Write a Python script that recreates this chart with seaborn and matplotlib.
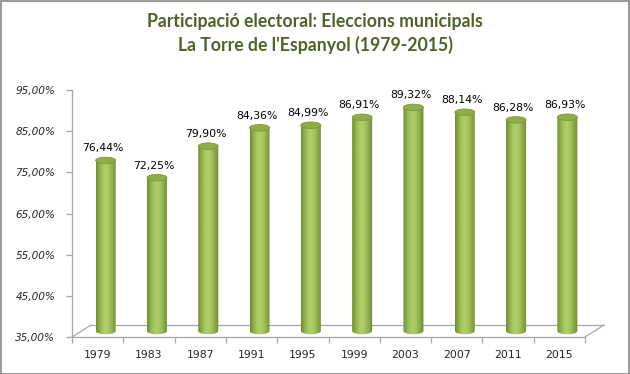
import numpy as np
import pandas as pd
import matplotlib
matplotlib.use("Agg")
import matplotlib.pyplot as plt
import seaborn as sns
from matplotlib.transforms import ScaledTranslation
from matplotlib.patches import Ellipse, PathPatch, Rectangle
from matplotlib.path import Path
from matplotlib.lines import Line2D
from matplotlib.colors import LinearSegmentedColormap
from matplotlib.ticker import FuncFormatter, FixedLocator

years = ["1979", "1983", "1987", "1991", "1995", "1999", "2003", "2007", "2011", "2015"]
participation = [76.44, 72.25, 79.90, 84.36, 84.99, 86.91, 89.32, 88.14, 86.28, 86.93]
y_ticks = [35, 45, 55, 65, 75, 85, 95]
title_lines = ["Participació electoral: Eleccions municipals", "La Torre de l'Espanyol (1979-2015)"]

sns.set_theme(style="white")
plt.rcParams['font.family'] = ['DejaVu Sans']

W, H, DPI = 630, 374, 100
fig = plt.figure(figsize=(W / DPI, H / DPI), dpi=DPI)
ax = fig.add_axes([72 / W, (H - 337) / H, (585 - 72) / W, (337 - 90) / H])

df = pd.DataFrame({"year": years, "value": participation})
bw = 0.39
sns.barplot(data=df, x="year", y="value", ax=ax, width=bw, color="#9BBB59", saturation=1)
ax.set_ylim(y_ticks[0], y_ticks[-1])
ax.set_xlim(-0.5, len(years) - 0.5)

# depth offsets (pixels)
bar_off = ScaledTranslation(8 / DPI, 6 / DPI, fig.dpi_scale_trans)
trans = ax.transData + bar_off
back_off = ScaledTranslation(19 / DPI, 12 / DPI, fig.dpi_scale_trans)
tback = ax.transAxes + back_off

# floor (3D base)
floor_col = "#A6A6A6"
ax.add_line(Line2D([0, 1], [0, 0], transform=tback, color=floor_col, lw=0.9, clip_on=False, zorder=1))
for xa in (0, 1):
    p0 = ax.transAxes.transform((xa, 0))
    p1 = tback.transform((xa, 0))
    ax.add_line(Line2D([p0[0], p1[0]], [p0[1], p1[1]], transform=None, color=floor_col,
                       lw=0.9, clip_on=False, zorder=1))

# cylinder shading
cmap = LinearSegmentedColormap.from_list(
    "cyl", ["#6F8C30", "#8DAE47", "#A9C964", "#AFCF6A", "#9FC05A", "#86A641", "#6E8A2F"])
grad = np.linspace(0, 1, 256).reshape(1, -1)

px_per_unit = ax.bbox.height / (y_ticks[-1] - y_ticks[0])
eh = 6.5 / px_per_unit

for patch, val in zip(ax.patches, participation):
    x0 = patch.get_x()
    w = patch.get_width()
    cx = x0 + w / 2
    base = y_ticks[0]
    patch.set_visible(False)
    t = np.linspace(np.pi, 2 * np.pi, 40)
    bx = cx + (w / 2) * np.cos(t)
    by = base + (eh / 2) * np.sin(t)
    verts = [(x0, val)] + list(zip(bx, by)) + [(x0 + w, val), (x0, val)]
    codes = [Path.MOVETO] + [Path.LINETO] * (len(verts) - 2) + [Path.CLOSEPOLY]
    clip = PathPatch(Path(verts, codes), transform=trans, facecolor="none", edgecolor="none")
    ax.add_patch(clip)
    im = ax.imshow(grad, extent=[x0, x0 + w, base - eh, val], transform=trans,
                   aspect="auto", cmap=cmap, zorder=2, interpolation="bilinear")
    im.set_clip_path(clip)
    top = Ellipse((cx, val), w, eh, transform=trans, facecolor="#8FAE4A",
                  edgecolor="#7B9838", lw=0.6, zorder=3)
    ax.add_patch(top)
    ax.annotate(f"{val:.2f}%".replace(".", ","), xy=(cx, val), xycoords=trans,
                xytext=(-2, 5), textcoords="offset points", ha="center", va="bottom",
                fontsize=7.8, color="black", zorder=4)

ax.set_aspect("auto")
ax.set_xlim(-0.5, len(years) - 0.5)
ax.set_ylim(y_ticks[0], y_ticks[-1])

for s in ("top", "right"):
    ax.spines[s].set_visible(False)
for s in ("left", "bottom"):
    ax.spines[s].set_color(floor_col)
    ax.spines[s].set_linewidth(0.9)
ax.set_xlabel("")
ax.set_ylabel("")
ax.yaxis.set_major_locator(FixedLocator(y_ticks))
ax.yaxis.set_major_formatter(FuncFormatter(lambda v, p: f"{v:.2f}%".replace(".", ",")))
ax.tick_params(axis="y", which="major", direction="out", length=4, width=0.9, color=floor_col,
               left=True, pad=8, labelsize=7.6)
for lab in ax.get_yticklabels():
    lab.set_fontstyle("italic")
ax.set_xticks(range(len(years)))
ax.set_xticklabels(years)
ax.set_xticks(np.arange(-0.5, len(years) + 0.5, 1), minor=True)
ax.tick_params(axis="x", which="major", length=0, pad=9, labelsize=7.8)
ax.tick_params(axis="x", which="minor", direction="out", length=4, width=0.9, color=floor_col, bottom=True)
ax.grid(False)
ax.patch.set_alpha(0)

fig.text(0.5, 1 - 22 / H, title_lines[0], ha="center", va="center", fontsize=12.7,
         fontweight="bold", color="#4F6228", family=["Lato", "DejaVu Sans"])
fig.text(0.5, 1 - 45 / H, title_lines[1], ha="center", va="center", fontsize=12.7,
         fontweight="bold", color="#4F6228", family=["Lato", "DejaVu Sans"])

fig.patches.append(Rectangle((0.5 / W, 0.5 / H), 1 - 1.5 / W, 1 - 1.5 / H, transform=fig.transFigure,
                             fill=False, edgecolor="#878787", lw=1.2))

fig.savefig("out.png", dpi=DPI)
